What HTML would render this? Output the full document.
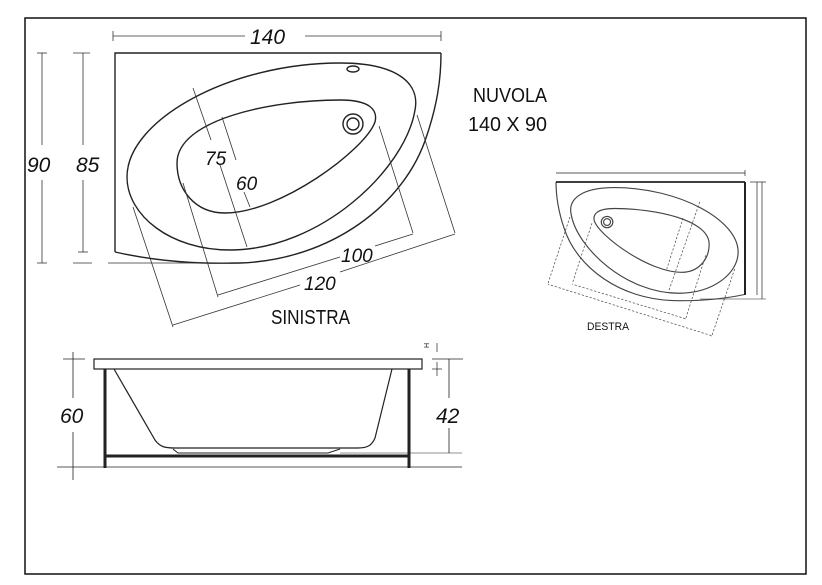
<!DOCTYPE html>
<html><head><meta charset="utf-8"><style>
html,body{margin:0;padding:0;background:#fff;}
svg{display:block;}
text{font-family:"Liberation Sans",Arial,sans-serif;fill:#111;}
.it{font-style:italic;font-size:21px;}
.n{font-family:"Liberation Sans Narrow","Liberation Sans",sans-serif;}
</style></head><body>
<svg width="822" height="585" viewBox="0 0 822 585" xmlns="http://www.w3.org/2000/svg">
<rect x="25" y="18" width="781" height="556" fill="none" stroke="#111" stroke-width="1.5"/>

<!-- SINISTRA top view -->
<g fill="none" stroke="#222" stroke-width="1.4">
  <path d="M115,252 L115,53 L441,53"/>
  <path d="M115,252 C160,262 200,264 240,263 C330,260 405,205 427,135 C437,105 441,80 441,53"/>
  <path d="M127,177 C127,120 230,63 340,63 C400,63 420,85 415,110 C405,170 320,250 230,250 C170,250 127,215 127,177 Z"/>
  <path d="M177,163 C177,120 270,100 340,100 C370,100 378,110 375,122 C365,150 280,213 225,213 C195,213 177,190 177,163 Z"/>
  <circle cx="353" cy="124" r="10"/>
  <circle cx="353" cy="124" r="6"/>
  <ellipse cx="353" cy="69" rx="6" ry="3"/>
</g>
<g stroke="#333" stroke-width="0.8" fill="none">
  <line x1="113" y1="36" x2="245" y2="36"/><line x1="305" y1="36" x2="441" y2="36"/>
  <line x1="113" y1="31" x2="113" y2="41"/><line x1="441" y1="31" x2="441" y2="41"/>
  <line x1="42" y1="53" x2="42" y2="145"/><line x1="42" y1="180" x2="42" y2="263"/>
  <line x1="37" y1="53" x2="47" y2="53"/><line x1="37" y1="263" x2="47" y2="263"/>
  <line x1="83" y1="53" x2="83" y2="145"/><line x1="83" y1="180" x2="83" y2="252"/>
  <line x1="73" y1="53" x2="90" y2="53"/>
  <line x1="73" y1="263" x2="92" y2="263"/><line x1="108" y1="263" x2="230" y2="263"/>
  <line x1="78" y1="252" x2="88" y2="252"/>
  <line x1="193" y1="88" x2="211" y2="140"/><line x1="220" y1="165" x2="247" y2="247"/>
  <line x1="222" y1="117" x2="236" y2="160"/><line x1="244" y1="192" x2="250" y2="207"/>
  <line x1="379" y1="126" x2="413" y2="233"/><line x1="183" y1="183" x2="218" y2="297"/>
  <line x1="218" y1="295" x2="340" y2="257"/><line x1="375" y1="246" x2="413" y2="234"/>
  <line x1="417" y1="115" x2="455" y2="233"/><line x1="133" y1="207" x2="173" y2="327"/>
  <line x1="173" y1="325" x2="300" y2="285"/><line x1="340" y1="272" x2="455" y2="234"/>
</g>
<text class="it" x="250" y="44">140</text>
<text class="it" x="27" y="172">90</text>
<text class="it" x="76" y="172">85</text>
<text class="it" x="205" y="165" style="font-size:19px">75</text>
<text class="it" x="236" y="190" style="font-size:19px">60</text>
<text class="it" x="341" y="262" style="font-size:19px">100</text>
<text class="it" x="304" y="290" style="font-size:19px">120</text>
<text class="n" x="473" y="102" style="font-size:20px" textLength="74" lengthAdjust="spacingAndGlyphs">NUVOLA</text>
<text class="n" x="468" y="131" style="font-size:20px" textLength="79" lengthAdjust="spacingAndGlyphs">140 X 90</text>
<text class="n" x="271" y="324" style="font-size:20px" textLength="79" lengthAdjust="spacingAndGlyphs">SINISTRA</text>

<!-- DESTRA small view (mirrored) -->
<g transform="matrix(-0.58,0,0,0.565,811.8,152)" fill="none" stroke="#444" stroke-width="2">
  <path d="M115,252 C160,262 200,264 240,263 C330,260 405,205 427,135 C437,105 441,80 441,53"/>
  <path d="M127,177 C127,120 230,63 340,63 C400,63 420,85 415,110 C405,170 320,250 230,250 C170,250 127,215 127,177 Z"/>
  <path d="M177,163 C177,120 270,100 340,100 C370,100 378,110 375,122 C365,150 280,213 225,213 C195,213 177,190 177,163 Z"/>
  <circle cx="353" cy="124" r="10"/>
  <circle cx="353" cy="124" r="6"/>
  <g stroke-width="1.2" stroke-dasharray="4 3">
    <line x1="193" y1="88" x2="247" y2="247"/><line x1="222" y1="117" x2="250" y2="207"/>
    <line x1="379" y1="126" x2="413" y2="233"/><line x1="183" y1="183" x2="218" y2="297"/>
    <line x1="218" y1="295" x2="413" y2="234"/>
    <line x1="417" y1="115" x2="455" y2="233"/><line x1="133" y1="207" x2="173" y2="327"/>
    <line x1="173" y1="325" x2="455" y2="234"/>
  </g>
</g>
<g stroke="#222" fill="none">
  <line x1="556" y1="182" x2="745" y2="182" stroke-width="1.8"/>
  <line x1="745" y1="182" x2="745" y2="295" stroke-width="2"/>
  <line x1="556" y1="173" x2="745" y2="173" stroke-width="0.7"/>
  <line x1="745" y1="170" x2="745" y2="176" stroke-width="0.7"/>
  <line x1="757" y1="182" x2="757" y2="295" stroke-width="0.7"/>
  <line x1="762" y1="182" x2="762" y2="299" stroke-width="0.7"/>
  <line x1="750" y1="182" x2="766" y2="182" stroke-width="0.7"/>
  <line x1="700" y1="299" x2="766" y2="299" stroke-width="0.6"/>
</g>
<text class="n" x="587" y="330" style="font-size:11px" textLength="42" lengthAdjust="spacingAndGlyphs">DESTRA</text>

<!-- Side view -->
<g fill="none" stroke="#222">
  <rect x="94" y="359" width="328" height="10" stroke-width="1.2"/>
  <line x1="105" y1="369" x2="105" y2="468" stroke-width="3"/>
  <line x1="409" y1="369" x2="409" y2="468" stroke-width="3"/>
  <line x1="105" y1="456" x2="409" y2="456" stroke-width="3"/>
  <line x1="57" y1="467" x2="462" y2="467" stroke-width="0.8"/>
  <path d="M114,369 L155,440 C160,447 165,448 175,448 L358,448 C368,448 372,445 375,438 L392,369" stroke-width="1.2"/>
  <path d="M173,449 L178,453 L328,453 L340,449" stroke-width="1"/>
  <line x1="73" y1="352" x2="73" y2="398" stroke-width="0.8"/>
  <line x1="73" y1="432" x2="73" y2="480" stroke-width="0.8"/>
  <line x1="63" y1="359" x2="85" y2="359" stroke-width="0.8"/>
  <line x1="449" y1="359" x2="449" y2="398" stroke-width="0.8"/>
  <line x1="449" y1="428" x2="449" y2="453" stroke-width="0.8"/>
  <line x1="432" y1="359" x2="463" y2="359" stroke-width="0.8"/>
  <line x1="340" y1="453" x2="462" y2="453" stroke-width="0.6"/>
  <line x1="437" y1="343" x2="437" y2="352" stroke-width="0.7"/>
  <line x1="437" y1="362" x2="437" y2="376" stroke-width="0.7"/>
  <line x1="432" y1="369" x2="442" y2="369" stroke-width="0.7"/>
</g>
<text x="434" y="343" style="font-size:7px" transform="rotate(-90 434 348)">H</text>
<text class="it" x="60" y="423">60</text>
<text class="it" x="436" y="423">42</text>
</svg>
</body></html>
